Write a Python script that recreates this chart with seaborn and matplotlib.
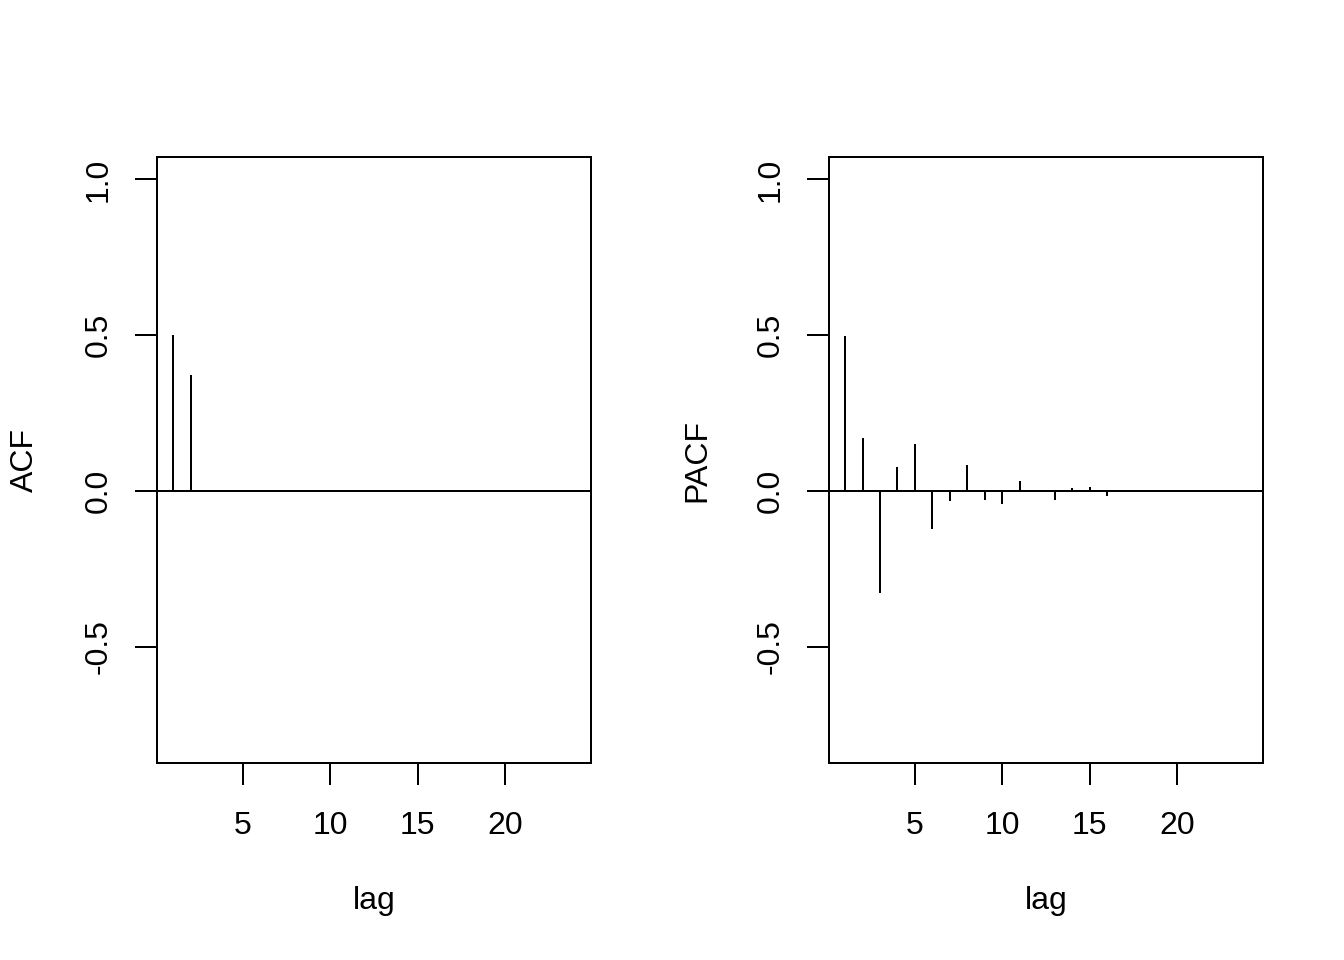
import numpy as np
import pandas as pd
import matplotlib
matplotlib.use("Agg")
import matplotlib.pyplot as plt
import seaborn as sns

lags = list(range(1, 25))
acf_vals = [0.50, 0.372] + [0.0] * 22
pacf_vals = [0.499, 0.169, -0.328, 0.076, 0.150, -0.120, -0.033, 0.085,
             -0.027, -0.040, 0.034, 0.005, -0.027, 0.009, 0.013, -0.014,
             0.001, 0.005, 0.0, 0.0, 0.0, 0.0, 0.0, 0.0]
x_ticks = [5, 10, 15, 20]
y_ticks = [-0.5, 0.0, 0.5, 1.0]
y_ticklabels = ["-0.5", "0.0", "0.5", "1.0"]

sns.set_style("ticks")
plt.rcParams["font.family"] = ["Liberation Sans", "DejaVu Sans"]
plt.rcParams["font.size"] = 12
plt.rcParams["text.color"] = "black"
plt.rcParams["axes.labelcolor"] = "black"

fig = plt.figure(figsize=(7, 5), dpi=192)
W, H = 1344, 960
lw = 0.75

def make_ax(x0, ylab, vals):
    ax = fig.add_axes([x0 / W, (H - 763) / H, 434 / W, 606 / H])
    df = pd.DataFrame({"lag": lags, "val": vals})
    ax.vlines(df["lag"], 0, df["val"], color="black", linewidth=lw)
    ax.axhline(0, color="black", linewidth=lw)
    ax.set_xlim(0.08, 24.92)
    ax.set_ylim(-0.872, 1.072)
    ax.set_xticks(x_ticks)
    ax.set_xticklabels([str(t) for t in x_ticks])
    ax.set_yticks(y_ticks)
    ax.set_yticklabels(y_ticklabels, rotation=90, va="center")
    for s in ax.spines.values():
        s.set_visible(True)
        s.set_linewidth(lw)
        s.set_color("black")
    ax.tick_params(axis="both", direction="out", length=8.25, width=lw,
                   color="black", labelsize=12, labelcolor="black")
    ax.tick_params(axis="x", pad=9.6)
    ax.tick_params(axis="y", pad=8.0)
    ax.set_xlabel("lag", fontsize=12, color="black")
    ax.set_ylabel(ylab, fontsize=12, color="black")
    ax.xaxis.set_label_coords(0.5, (763 - 901) / 606)
    ax.xaxis.label.set_va("center")
    ax.yaxis.set_label_coords(-132 / 434, 0.5)
    ax.yaxis.label.set_va("center")
    ax.set_facecolor("white")
    return ax

make_ax(157, "ACF", acf_vals)
make_ax(829, "PACF", pacf_vals)

fig.patch.set_facecolor("white")
fig.savefig("out.png", dpi=192, facecolor="white")
